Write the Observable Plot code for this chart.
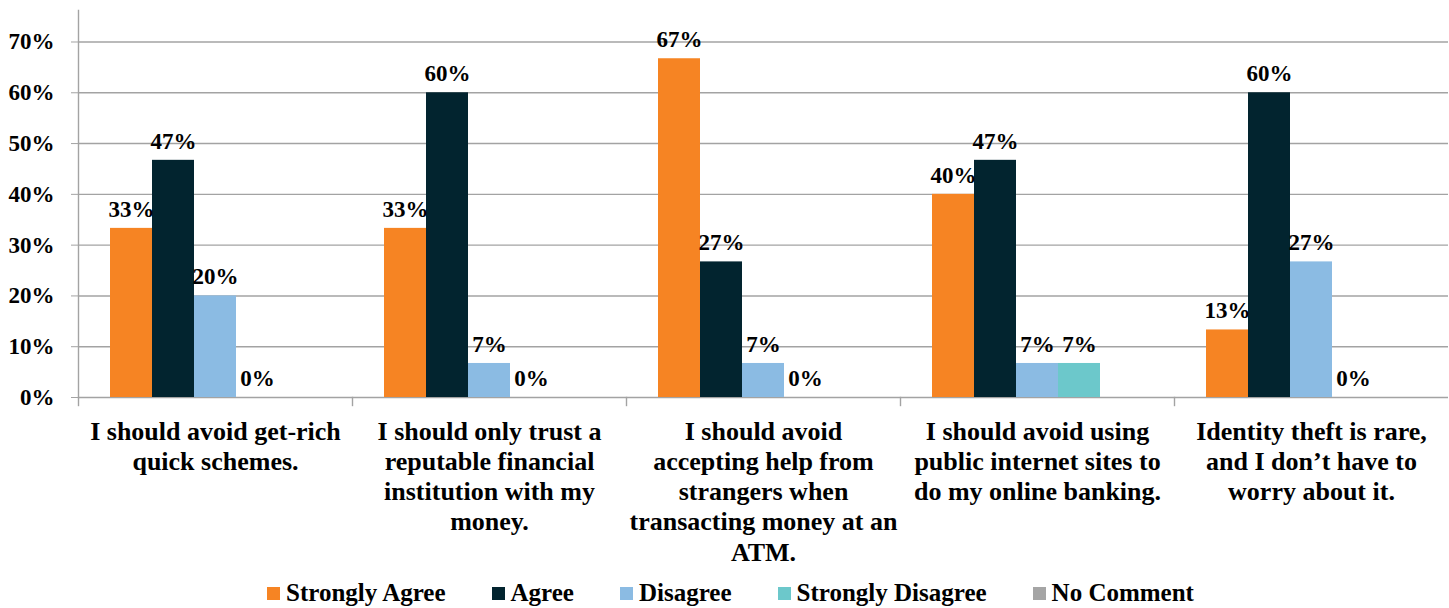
<!DOCTYPE html>
<html><head><meta charset="utf-8">
<script src="https://cdn.jsdelivr.net/npm/d3@7"></script>
<script src="https://cdn.jsdelivr.net/npm/@observablehq/plot@0.6"></script>
<style>
body{margin:0;background:#fff;}
#legend{display:flex;justify-content:center;align-items:center;width:1449px;height:30px;padding-left:12px;box-sizing:border-box;font-weight:bold;font-size:25px;font-family:"Liberation Serif","Times New Roman",Times,"DejaVu Serif",serif;color:#000;}
#legend .item{display:flex;align-items:center;margin:0 23px;}
#legend .sw{width:13px;height:13px;margin-right:6px;}
</style></head><body>
<div id="chart"></div><div id="legend"></div>
<script>
const categories = ["c1","c2","c3","c4","c5"];
const categoryLabels = [
  "I should avoid get-rich\nquick schemes.",
  "I should only trust a\nreputable financial\ninstitution with my\nmoney.",
  "I should avoid\naccepting help from\nstrangers when\ntransacting money at an\nATM.",
  "I should avoid using\npublic internet sites to\ndo my online banking.",
  "Identity theft is rare,\nand I don’t have to\nworry about it."
];
const series = ["Strongly Agree","Agree","Disagree","Strongly Disagree","No Comment"];
const colors = ["#F68423","#02242F","#8BBBE3","#6CC8CB","#A5A5A5"];
const stronglyAgree    = [0.333,0.333,0.667,0.4,0.133];
const agree            = [0.467,0.6,0.267,0.467,0.6];
const disagree         = [0.2,0.067,0.067,0.067,0.267];
const stronglyDisagree = [0,0,0,0.067,0];
const noComment        = [null,null,null,null,null];
const yTicks = [0,0.1,0.2,0.3,0.4,0.5,0.6,0.7];

const seriesValues = [stronglyAgree, agree, disagree, stronglyDisagree, noComment];
const data = [];
categories.forEach((c,i)=>series.forEach((s,j)=>{
  const v = seriesValues[j][i];
  if (v != null) data.push({cat:c, series:s, value:v});
}));
const labelOf = Object.fromEntries(categories.map((c,i)=>[c,categoryLabels[i]]));
const fmt = d3.format(".0%");
const font = "'Liberation Serif', 'Times New Roman', Times, 'DejaVu Serif', serif";
const grid = "#a3a3a3";

const chart = Plot.plot({
  width: 1449, height: 578,
  marginTop: 10, marginBottom: 181, marginLeft: 76, marginRight: 0,
  style: {fontFamily: font, fontWeight: "bold", color: "#000", background: "#fff"},
  fx: {domain: categories, padding: 0, axis: null},
  x: {domain: series, paddingInner: 0, paddingOuter: 0.72, axis: null},
  y: {domain: [0, 0.762], axis: null},
  color: {domain: series, range: colors},
  marks: [
    Plot.ruleY(yTicks, {stroke: grid, strokeWidth: 1.4}),
    Plot.barY(data, {fx: "cat", x: "series", y: "value", fill: "series"}),
    Plot.text(data, {fx: "cat", x: "series", y: "value", text: d => fmt(d.value), dy: -19, fontSize: 23, fontWeight: "bold", fontFamily: font, fill: "#000"}),
    Plot.frame({anchor: "left", facetAnchor: "left", stroke: grid, strokeWidth: 1.4}),
    Plot.frame({anchor: "left", stroke: grid, strokeWidth: 1.4, insetTop: 387, insetBottom: -8}),
    Plot.axisY({ticks: yTicks, tickFormat: fmt, tickSize: 7, tickPadding: 17, fontSize: 23, fontWeight: "bold", fontFamily: font, stroke: grid, fill: "#000", label: null}),
    Plot.axisFx({anchor: "bottom", tickSize: 0, tickPadding: 21, tickFormat: d => labelOf[d], fontSize: 26, fontWeight: "bold", fontFamily: font, lineHeight: 1.16, fill: "#000", label: null})
  ]
});
document.getElementById("chart").appendChild(chart);

const legend = document.getElementById("legend");
series.forEach((s,i)=>{
  const item = document.createElement("div"); item.className = "item";
  const sw = document.createElement("div"); sw.className = "sw"; sw.style.background = colors[i];
  const t = document.createElement("span"); t.textContent = s;
  item.appendChild(sw); item.appendChild(t); legend.appendChild(item);
});
</script></body></html>
